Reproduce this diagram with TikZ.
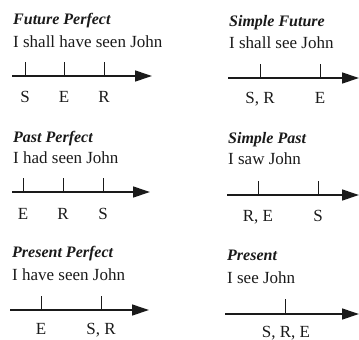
\documentclass[tikz,border=0pt]{standalone}
\usepackage{fontspec}
\setmainfont{Liberation Serif}
\usepackage{tikz}
\usetikzlibrary{
    arrows.meta,
    positioning,
    calc
}
\definecolor{ink}{HTML}{1A1A1A}

\begin{document}
\begin{tikzpicture}[
    x=1pt, y=-1pt,
    line cap=butt, line join=miter,
    %% --- semantic styles ---
    tensename/.style  = {anchor=base west, inner sep=0pt, text=ink,
                         font=\fontsize{16}{19}\selectfont\bfseries\itshape},
    sentence/.style   = {anchor=base west, inner sep=0pt, text=ink,
                         font=\fontsize{17}{20}\selectfont},
    timeline/.style   = {-{Triangle[length=17pt, width=11pt]}, draw=ink,
                         line width=1.3pt},
    tickmark/.style   = {draw=ink, line width=1pt},
    pointlabel/.style = {anchor=base, inner sep=0pt, text=ink,
                         font=\fontsize{17}{20}\selectfont}
]
\useasboundingbox (0,0) rectangle (359,340);

%% =====================================================
%% Future Perfect
%% =====================================================
\node[tensename] (FPname) at (13, 24)  {Future Perfect};
\node[sentence]  (FPtext) at (13, 47)  {I shall have seen John};
\coordinate (FPa) at (12, 76);
\coordinate (FPb) at (152, 76);
\draw[timeline] (FPa) -- (FPb);
\foreach \N/\X/\T in {FPS/25/S, FPE/64/E, FPR/104/R} {
    \coordinate (\N) at (\X, 76);
    \draw[tickmark] (\N) -- ++(0, -14);
    \node[pointlabel] (\N-lab) at (\X, 102) {\T};
}

%% =====================================================
%% Simple Future
%% =====================================================
\node[tensename] (SFname) at (229, 26) {Simple Future};
\node[sentence]  (SFtext) at (229, 48) {I shall see John};
\coordinate (SFa) at (228, 78);
\coordinate (SFb) at (359, 78);
\draw[timeline] (SFa) -- (SFb);
\foreach \N/\X/\T in {SFSR/260/{S, R}, SFE/320/E} {
    \coordinate (\N) at (\X, 78);
    \draw[tickmark] (\N) -- ++(0, -14);
    \node[pointlabel] (\N-lab) at (\X, 103) {\T};
}

%% =====================================================
%% Past Perfect
%% =====================================================
\node[tensename] (PPname) at (13, 142) {Past Perfect};
\node[sentence]  (PPtext) at (13, 163) {I had seen John};
\coordinate (PPa) at (12, 192);
\coordinate (PPb) at (150, 192);
\draw[timeline] (PPa) -- (PPb);
\foreach \N/\X/\T in {PPE/23/E, PPR/63/R, PPS/103/S} {
    \coordinate (\N) at (\X, 192);
    \draw[tickmark] (\N) -- ++(0, -14);
    \node[pointlabel] (\N-lab) at (\X, 219) {\T};
}

%% =====================================================
%% Simple Past
%% =====================================================
\node[tensename] (SPname) at (228, 143) {Simple Past};
\node[sentence]  (SPtext) at (228, 164) {I saw John};
\coordinate (SPa) at (227, 195);
\coordinate (SPb) at (359, 195);
\draw[timeline] (SPa) -- (SPb);
\foreach \N/\X/\T in {SPRE/258/{R, E}, SPS/318/S} {
    \coordinate (\N) at (\X, 195);
    \draw[tickmark] (\N) -- ++(0, -14);
    \node[pointlabel] (\N-lab) at (\X, 221) {\T};
}

%% =====================================================
%% Present Perfect
%% =====================================================
\node[tensename] (PRPname) at (12, 257) {Present Perfect};
\node[sentence]  (PRPtext) at (12, 280) {I have seen John};
\coordinate (PRPa) at (10, 310);
\coordinate (PRPb) at (149, 310);
\draw[timeline] (PRPa) -- (PRPb);
\foreach \N/\X/\T in {PRPE/41/E, PRPSR/101/{S, R}} {
    \coordinate (\N) at (\X, 310);
    \draw[tickmark] (\N) -- ++(0, -14);
    \node[pointlabel] (\N-lab) at (\X, 334) {\T};
}

%% =====================================================
%% Present
%% =====================================================
\node[tensename] (PRname) at (227, 260) {Present};
\node[sentence]  (PRtext) at (227, 283) {I see John};
\coordinate (PRa) at (225, 314);
\coordinate (PRb) at (359, 314);
\draw[timeline] (PRa) -- (PRb);
\coordinate (PRSRE) at (285, 314);
\draw[tickmark] (PRSRE) -- ++(0, -15);
\node[pointlabel] (PRSRE-lab) at (286, 337) {S, R, E};

\end{tikzpicture}
\end{document}
